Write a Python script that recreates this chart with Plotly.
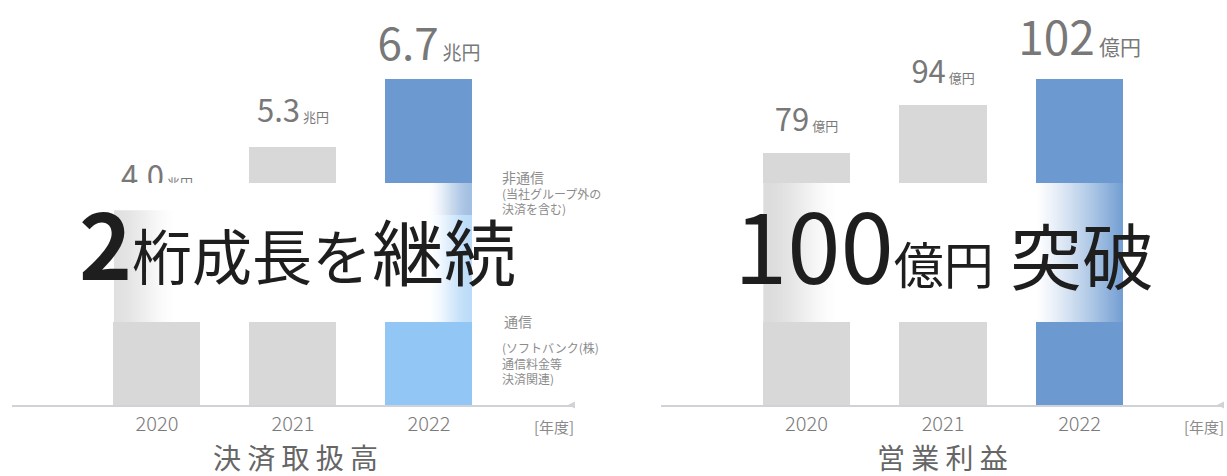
import base64
import struct
import zlib

import plotly.graph_objects as go

W, H = 1227, 476

# ---- data -------------------------------------------------------------
years = ["2020", "2021", "2022"]
volume_total = [4.0, 5.3, 6.7]        # 決済取扱高 (兆円)
volume_telecom = [2.6, 3.2, 3.9]      # 通信 portion (兆円)
profit = [79, 94, 102]                # 営業利益 (億円)

volume_non_telecom = [round(t - c, 2) for t, c in zip(volume_total, volume_telecom)]

# ---- style ------------------------------------------------------------
FONT = "Noto Sans CJK JP"
GRAY = "#d8d8d8"
BLUE = "#6b99d0"
LIGHT_BLUE = "#92c6f4"
LABEL = "#787878"
NOTE = "#8c8c8c"
AXIS = "#cfd2d6"
INK = "#1e1e1e"
BAR_W = 0.64

AXIS_PX = 405                 # baseline of both panels (px from top)
BAND_TOP_PX, BAND_BOT_PX = 183, 322
Y_DOMAIN = [1 - AXIS_PX / H, 1]


def py(px):
    """pixel row -> paper y"""
    return 1 - px / H


def px_x(px):
    """pixel column -> paper x"""
    return px / W


def gradient_uri(alpha_row):
    """2-row white PNG with the given alpha profile, as a data URI."""
    w = len(alpha_row)
    row = b"\x00" + b"".join(bytes((255, 255, 255, int(round(a * 255)))) for a in alpha_row)
    raw = row * 2

    def chunk(tag, data):
        return (struct.pack(">I", len(data)) + tag + data
                + struct.pack(">I", zlib.crc32(tag + data) & 0xFFFFFFFF))

    png = (b"\x89PNG\r\n\x1a\n"
           + chunk(b"IHDR", struct.pack(">IIBBBBB", w, 2, 8, 6, 0, 0, 0))
           + chunk(b"IDAT", zlib.compress(raw))
           + chunk(b"IEND", b""))
    return "data:image/png;base64," + base64.b64encode(png).decode()


def smooth(t):
    t = min(max(t, 0.0), 1.0)
    return t * t * (3 - 2 * t)


def value_label(v, fmt, unit, big, small, gap):
    return (f"<span style='font-size:{big}px'>{v:{fmt}}</span>"
            f"<span style='font-size:{small}px'>{gap}{unit}</span>")


vol_labels = [value_label(v, ".1f", "兆円", 44 if i == 2 else 31, 19 if i == 2 else 13,
                          "\u2009" if i == 2 else " ")
              for i, v in enumerate(volume_total)]
prof_labels = [value_label(v, "d", "億円", 46 if i == 2 else 31, 21 if i == 2 else 13,
                           "\u2009" if i == 2 else " ")
               for i, v in enumerate(profit)]
# base text size of the label traces; it sets the gap between bar top and label
vol_label_base = [88, 100, 76]
prof_label_base = [88, 88, 96]

xpos = list(range(len(years)))

fig = go.Figure()

# 決済取扱高: 通信 (bottom) + 非通信 (top)
fig.add_trace(go.Bar(
    x=xpos, y=volume_telecom, width=BAR_W, name="通信",
    marker=dict(color=[GRAY, GRAY, LIGHT_BLUE], line=dict(width=0)),
    xaxis="x", yaxis="y", hoverinfo="skip",
))
fig.add_trace(go.Bar(
    x=xpos, y=volume_non_telecom, width=BAR_W, name="非通信",
    marker=dict(color=[GRAY, GRAY, BLUE], line=dict(width=0)),
    xaxis="x", yaxis="y", hoverinfo="skip",
))
fig.add_trace(go.Scatter(
    x=xpos, y=volume_total, mode="text", text=vol_labels, textposition="top center",
    textfont=dict(family=FONT, size=vol_label_base, color=LABEL), cliponaxis=False,
    xaxis="x", yaxis="y", hoverinfo="skip",
))
# 営業利益
fig.add_trace(go.Bar(
    x=xpos, y=profit, width=BAR_W, name="営業利益",
    marker=dict(color=[GRAY, GRAY, BLUE], line=dict(width=0)),
    xaxis="x2", yaxis="y2", hoverinfo="skip",
))
fig.add_trace(go.Scatter(
    x=xpos, y=profit, mode="text", text=prof_labels, textposition="top center",
    textfont=dict(family=FONT, size=prof_label_base, color=LABEL), cliponaxis=False,
    xaxis="x2", yaxis="y2", hoverinfo="skip",
))

axis_common = dict(
    showgrid=False, zeroline=False, showline=True, linecolor=AXIS, linewidth=2,
    ticks="", tickvals=xpos, ticktext=years,
    tickfont=dict(family=FONT, size=20, color="#7a7a7a", weight=300),
    fixedrange=True,
)
yaxis_common = dict(showgrid=False, zeroline=False, showline=False, showticklabels=False,
                    domain=Y_DOMAIN, fixedrange=True)

fig.update_layout(
    width=W, height=H, margin=dict(l=0, r=0, t=0, b=0),
    paper_bgcolor="white", plot_bgcolor="white",
    barmode="stack", showlegend=False,
    font=dict(family=FONT),
    xaxis=dict(axis_common, domain=[px_x(12), px_x(575)], range=[-1.066, 3.074], anchor="y"),
    yaxis=dict(yaxis_common, range=[0, AXIS_PX / (326 / 6.7)], anchor="x"),
    xaxis2=dict(axis_common, domain=[px_x(661), px_x(1224)], range=[-1.066, 3.058], anchor="y2"),
    yaxis2=dict(yaxis_common, range=[0, AXIS_PX / (326 / 102)], anchor="x2"),
)

# ---- white band with faded bar edges ---------------------------------
def band_profile(x0, x1, fn, n=400):
    return [fn(x0 + (x1 - x0) * (k + 0.5) / n) for k in range(n)]


half = BAR_W / 2


def left_alpha(x):
    a0 = -half
    if x < a0:
        return 1.0
    if x < a0 + 0.48:
        return 0.22 + 0.78 * smooth((x - a0) / 0.48)
    if x < 2 + half - 0.34:
        return 1.0
    return 1.0 - 0.62 * smooth((x - (2 + half - 0.34)) / 0.34)


def right_alpha(x):
    a0 = -half
    if x < a0:
        return 1.0
    if x < a0 + 0.58:
        return 0.1 + 0.9 * smooth((x - a0) / 0.58)
    if x < 2 - half:
        return 1.0
    t = (x - (2 - half)) / BAR_W
    return 1.0 - 0.95 * min(t, 1.0) ** 1.2


images = []
for xref, x0, x1, fn in (("x", -0.5, 2 + half, left_alpha), ("x2", -0.5, 2 + half, right_alpha)):
    images.append(dict(
        source=gradient_uri(band_profile(x0, x1, fn)),
        xref=xref, yref="paper", x=x0, y=py(BAND_TOP_PX),
        sizex=x1 - x0, sizey=py(BAND_TOP_PX) - py(BAND_BOT_PX),
        xanchor="left", yanchor="top", sizing="stretch", layer="above",
    ))
fig.update_layout(images=images)

shapes = [
    # keep the band solid white above the 2020 volume bar
    dict(type="rect", xref="x", yref="y", x0=-0.6, x1=0.6,
         y0=volume_total[0], y1=(AXIS_PX - BAND_TOP_PX) / (326 / 6.7),
         fillcolor="white", line=dict(width=0), layer="above"),
]
# small arrow heads at the end of each baseline
for xe in (575, 1224):
    shapes.append(dict(
        type="path", xref="paper", yref="paper",
        path=(f"M {px_x(xe - 7)} {py(AXIS_PX)} L {px_x(xe)} {py(AXIS_PX - 3.5)} "
              f"L {px_x(xe)} {py(AXIS_PX + 3.5)} Z"),
        fillcolor=AXIS, line=dict(width=0), layer="above",
    ))
fig.update_layout(shapes=shapes)

# ---- text -------------------------------------------------------------
ann = []


def add_text(text, x, y, size, color, xanchor="center", yanchor="middle", weight=400,
             align="center"):
    ann.append(dict(text=text, x=px_x(x), y=py(y), xref="paper", yref="paper",
                    xanchor=xanchor, yanchor=yanchor, showarrow=False, align=align,
                    font=dict(family=FONT, size=size, color=color, weight=weight)))


# series notes next to the 2022 volume bar
add_text("<span style='font-size:14px'>非通信</span><br>(当社グループ外の<br>決済を含む)",
         500, 165, 12, NOTE, xanchor="left", yanchor="top", align="left")
add_text("通信", 502, 321, 14, NOTE, xanchor="left", align="left")
add_text("(ソフトバンク(株)<br>通信料金等<br>決済関連)",
         500, 337, 12, NOTE, xanchor="left", yanchor="top", align="left")

# unit and panel titles
add_text("[年度]", 554, 426, 15, "#8a8a8a")
add_text("[年度]", 1204, 426, 15, "#8a8a8a")
add_text("決 済 取 扱 高", 295, 457, 28, "#666666")
add_text("営 業 利 益", 942, 457, 28, "#666666")

# headline messages
add_text("<span style='font-size:90px;font-weight:700'>2</span>"
         "<span style='font-size:60px'>桁成長を</span>"
         "<span style='font-size:72px'>継続</span>",
         297, 241, 72, INK)
add_text("<span style='font-size:96px;font-weight:400'>100</span>"
         "<span style='font-size:50px'>億円</span>"
         "<span style='font-size:72px'> 突破</span>",
         944, 243, 72, INK)

fig.update_layout(annotations=ann)

fig.write_html("out.html")
